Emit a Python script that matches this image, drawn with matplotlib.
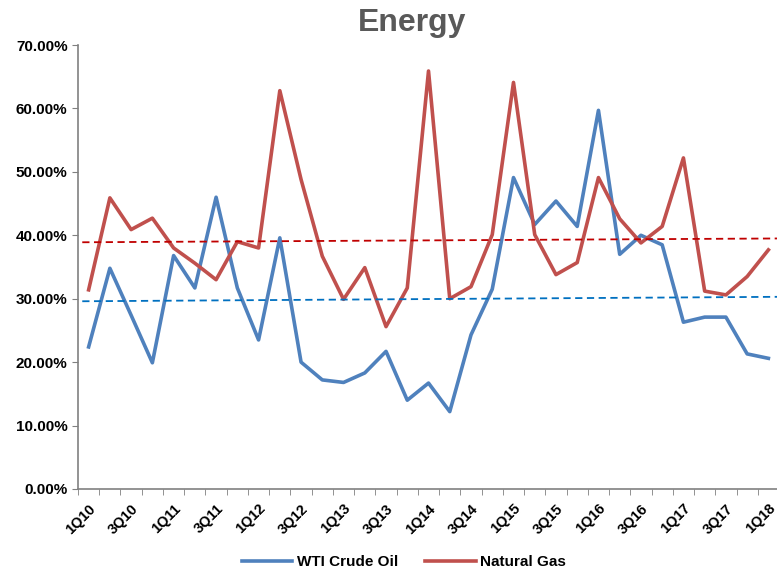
import numpy as np
import matplotlib
matplotlib.use("Agg")
import matplotlib.pyplot as plt
from matplotlib.ticker import FuncFormatter

# quarterly data, 1Q10 .. 1Q18
quarters = [f"{q}Q{y}" for y in range(10, 19) for q in range(1, 5)][:33]

wti = [22.4, 34.8, 27.4, 19.9, 36.8, 31.7, 46.0, 31.7, 23.5, 39.6,
       20.0, 17.2, 16.8, 18.3, 21.7, 14.0, 16.7, 12.2, 24.3, 31.5,
       49.1, 41.7, 45.4, 41.4, 59.7, 37.0, 40.0, 38.5, 26.3, 27.1,
       27.1, 21.3, 20.6]

natgas = [31.4, 45.9, 40.9, 42.7, 38.0, 35.6, 33.0, 39.0, 38.0, 62.8,
          48.8, 36.7, 29.9, 34.9, 25.6, 31.7, 65.9, 30.0, 31.9, 40.1,
          64.1, 40.1, 33.8, 35.7, 49.1, 42.6, 38.8, 41.4, 52.2, 31.2,
          30.6, 33.5, 37.7]

# trend line start / end values
wti_trend = [29.6, 30.3]
natgas_trend = [38.9, 39.5]

plt.rcParams['font.family'] = ['Liberation Sans', 'DejaVu Sans']

fig = plt.figure(figsize=(7.77, 5.80), dpi=100)
ax = fig.add_axes([0.1004, 0.1569, 0.9022, 0.7655])

x = np.arange(len(quarters))
ax.plot(x, wti, color="#4F81BD", lw=2.6, label="WTI Crude Oil", solid_joinstyle="round")
ax.plot(x, natgas, color="#C0504D", lw=2.6, label="Natural Gas", solid_joinstyle="round")

# trend lines
xt = [-0.3, len(quarters) - 0.5]
ax.plot(xt, wti_trend, color="#0070C0", lw=1.3, dashes=(4, 2.5))
ax.plot(xt, natgas_trend, color="#C00000", lw=1.3, dashes=(4, 2.5))

ax.set_xlim(-0.5, len(quarters) - 0.5)
ax.set_ylim(0, 70)
ax.set_yticks(np.arange(0, 71, 10))
ax.yaxis.set_major_formatter(FuncFormatter(lambda v, p: f"{v:.2f}%"))

ax.set_xticks(x[::2])
ax.set_xticklabels(quarters[::2], rotation=45, ha="right", va="top",
                   rotation_mode="anchor", fontweight="bold", fontsize=10.5)
ax.set_xticks(np.arange(-0.5, len(quarters)), minor=True)
ax.tick_params(axis="x", which="major", length=0, pad=9)
ax.tick_params(axis="x", which="minor", length=4, color="#808080", direction="out")
ax.tick_params(axis="y", length=4, color="#808080", direction="out", labelsize=11)
for t in ax.get_yticklabels():
    t.set_fontweight("bold")

for s in ["top", "right"]:
    ax.spines[s].set_visible(False)
for s in ["left", "bottom"]:
    ax.spines[s].set_color("#808080")
    ax.spines[s].set_linewidth(1.2)

fig.text(0.53, 0.96, "Energy", ha="center", va="center", fontsize=23,
         fontweight="bold", color="#595959")

fig.legend(loc="lower center", bbox_to_anchor=(0.52, -0.005), ncol=2, frameon=False,
           prop={"weight": "bold", "size": 11},
           handlelength=3.3, columnspacing=1.8, handletextpad=0.3)

fig.savefig("out.png", dpi=100)
